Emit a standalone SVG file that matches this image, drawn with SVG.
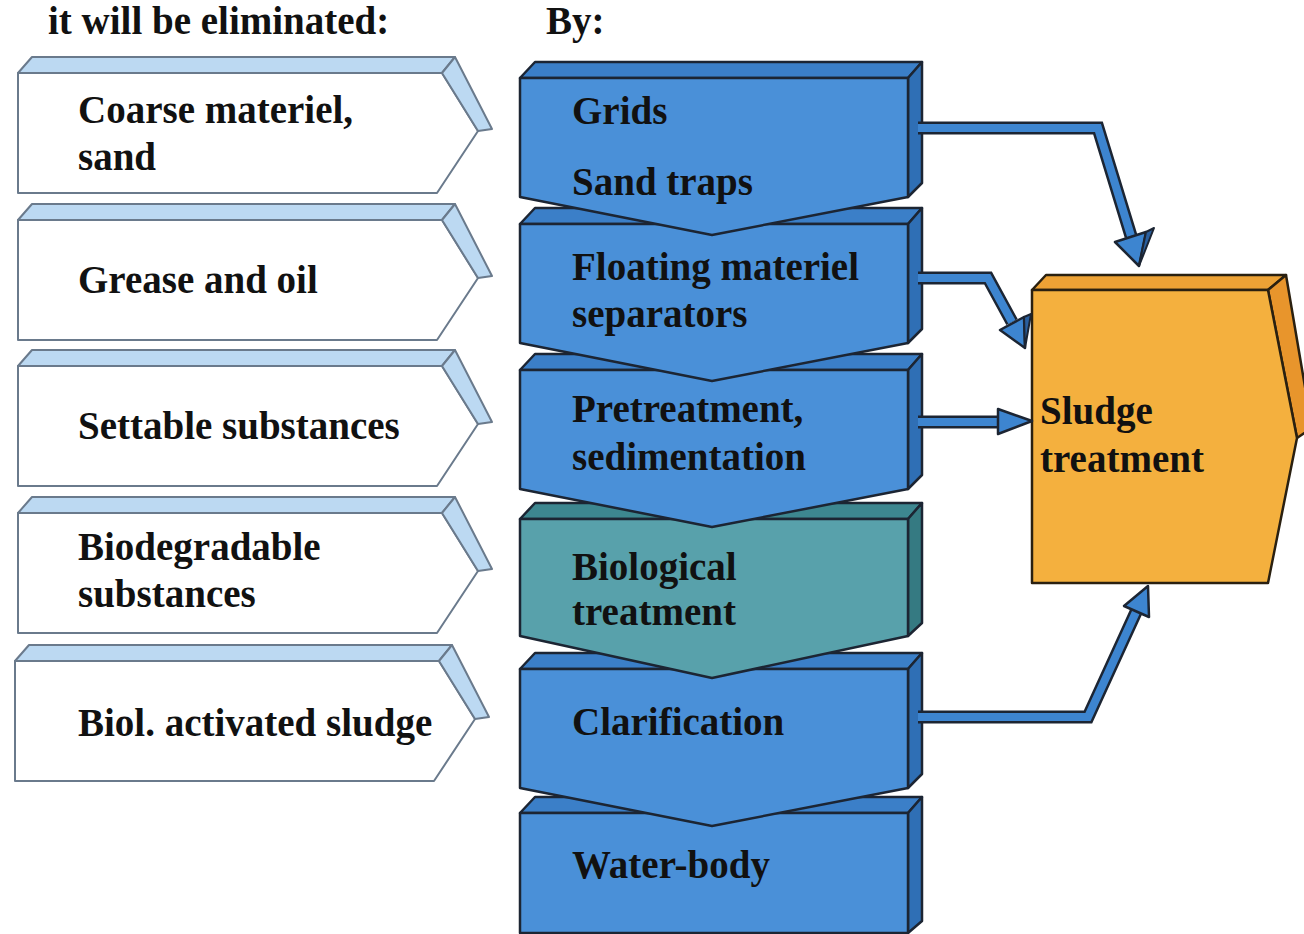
<svg xmlns="http://www.w3.org/2000/svg" width="1304" height="934" viewBox="0 0 1304 934">
<defs>
<style>
text{font-family:"Liberation Serif","Times New Roman",serif;font-weight:bold;font-size:39px;fill:#111}
.lf{fill:#fff;stroke:#6a7a8c;stroke-width:2;stroke-linejoin:round}
.ls{fill:#bcd9f2;stroke:#6a7a8c;stroke-width:2;stroke-linejoin:round}
.bf{fill:#4a90d8;stroke:#1c2533;stroke-width:2.5;stroke-linejoin:round}
.bt{fill:#3b7fc8;stroke:#1c2533;stroke-width:2.5;stroke-linejoin:round}
.bs{fill:#2f6fb5;stroke:#1c2533;stroke-width:2.5;stroke-linejoin:round}
.tf{fill:#58a1ab;stroke:#1c2533;stroke-width:2.5;stroke-linejoin:round}
.tt{fill:#3d8790;stroke:#1c2533;stroke-width:2.5;stroke-linejoin:round}
.ts{fill:#357a82;stroke:#1c2533;stroke-width:2.5;stroke-linejoin:round}
.of{fill:#f4b03e;stroke:#2a2010;stroke-width:2.5;stroke-linejoin:round}
.ot{fill:#eda235;stroke:#2a2010;stroke-width:2.5;stroke-linejoin:round}
.os{fill:#e8952c;stroke:#2a2010;stroke-width:2.5;stroke-linejoin:round}
.co{fill:none;stroke:#1c2533;stroke-width:13;stroke-linejoin:miter}
.ci{fill:none;stroke:#3d85d0;stroke-width:8;stroke-linejoin:miter}
.ah{fill:#3d85d0;stroke:#1c2533;stroke-width:2.5;stroke-linejoin:round}
.ad{fill:#2a5f9e;stroke:#1c2533;stroke-width:2;stroke-linejoin:round}
</style>
<g id="leftbox">
<polygon class="ls" points="18,16 32,0 455,0 442,16"/>
<polygon class="lf" points="18,16 442,16 478,74 437,136 18,136"/>
<polygon class="ls" points="442,16 455,0 492,72 478,74"/>
</g>
<g id="blueblock">
<polygon class="bt" points="520,16 535,0 922,0 908,16"/>
<polygon class="bs" points="908,16 922,0 922,121 908,135"/>
<polygon class="bf" points="520,16 908,16 908,135 712,173 520,135"/>
</g>
</defs>

<text x="48" y="34">it will be eliminated:</text>
<text x="546" y="34">By:</text>

<g id="box-coarse" transform="translate(0,57)">
<use href="#leftbox"/>
<text x="78" y="66">Coarse materiel,</text>
<text x="78" y="113">sand</text>
</g>
<g id="box-grease" transform="translate(0,204)">
<use href="#leftbox"/>
<text x="78" y="89">Grease and oil</text>
</g>
<g id="box-settable" transform="translate(0,350)">
<use href="#leftbox"/>
<text x="78" y="89">Settable substances</text>
</g>
<g id="box-biodeg" transform="translate(0,497)">
<use href="#leftbox"/>
<text x="78" y="63">Biodegradable</text>
<text x="78" y="110">substances</text>
</g>
<g id="box-sludge" transform="translate(-3,645)">
<use href="#leftbox"/>
<text x="81" y="91">Biol. activated sludge</text>
</g>

<g id="blk-water" transform="translate(0,797)">
<polygon class="bt" points="520,16 535,0 922,0 908,16"/>
<polygon class="bs" points="908,16 922,0 922,124 908,136"/>
<polygon class="bf" points="520,16 908,16 908,136 520,136"/>
<text x="572" y="81">Water-body</text>
</g>
<g id="blk-clar" transform="translate(0,653)">
<use href="#blueblock"/>
<text x="572" y="82">Clarification</text>
</g>
<g id="blk-bio" transform="translate(0,503)">
<polygon class="tt" points="520,16 535,0 922,0 908,16"/>
<polygon class="ts" points="908,16 922,0 922,120 908,133"/>
<polygon class="tf" points="520,16 908,16 908,133 712,175 520,133"/>
<text x="572" y="77">Biological</text>
<text x="572" y="122">treatment</text>
</g>
<g id="blk-pre" transform="translate(0,354)">
<use href="#blueblock"/>
<text x="572" y="68">Pretreatment,</text>
<text x="572" y="116">sedimentation</text>
</g>
<g id="blk-float" transform="translate(0,208)">
<use href="#blueblock"/>
<text x="572" y="72">Floating materiel</text>
<text x="572" y="119">separators</text>
</g>
<g id="blk-grids" transform="translate(0,62)">
<use href="#blueblock"/>
<text x="572" y="62">Grids</text>
<text x="572" y="133">Sand traps</text>
</g>

<g id="sludge-treatment">
<polygon class="ot" points="1032,290 1046,275 1286,275 1268,290"/>
<polygon class="os" points="1268,290 1286,275 1312,428 1297,438"/>
<polygon class="of" points="1032,290 1268,290 1297,438 1268,583 1032,583"/>
<text x="1040" y="424">Sludge</text>
<text x="1040" y="472">treatment</text>
</g>

<g id="connectors">
<path class="co" d="M918 128 H1098 L1131 236"/>
<path class="ci" d="M918 128 H1098 L1131 236"/>
<polygon class="ah" points="1146,232 1139,266 1115,242"/>
<polygon class="ad" points="1146,232 1154,228 1139,266"/>
<path class="co" d="M918 278 H988 L1012 322"/>
<path class="ci" d="M918 278 H988 L1012 322"/>
<polygon class="ah" points="1024,317 1025,348 1000,330"/>
<polygon class="ad" points="1024,317 1031,314 1025,348"/>
<path class="co" d="M918 422 H1000"/>
<path class="ci" d="M918 422 H1000"/>
<polygon class="ah" points="998,409 1032,421 998,434"/>
<path class="co" d="M918 717 H1088 L1136 612"/>
<path class="ci" d="M918 717 H1088 L1136 612"/>
<polygon class="ah" points="1149,617 1148,586 1124,606"/>
</g>
</svg>
